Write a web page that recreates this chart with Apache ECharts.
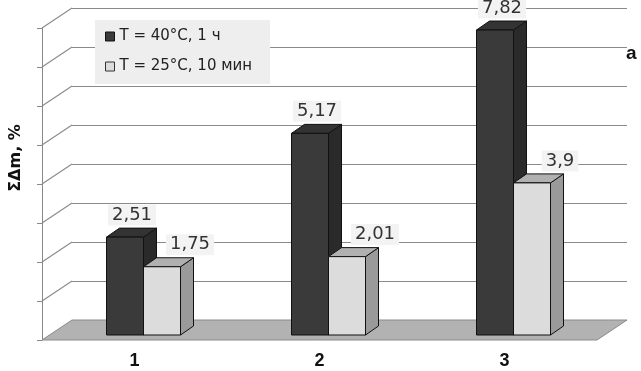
<!DOCTYPE html>
<html>
<head>
<meta charset="utf-8">
<script src="https://cdn.jsdelivr.net/npm/echarts@6/dist/echarts.min.js"></script>
<style>html,body{margin:0;padding:0;background:#fff}#main{width:641px;height:371px}</style>
</head>
<body>
<div id="main"></div>
<script>
const categories = ['1', '2', '3'];
const seriesNames = ['T = 40°C, 1 ч', 'T = 25°C, 10 мин'];
const hotValues = [2.51, 5.17, 7.82];
const coldValues = [1.75, 2.01, 3.9];
const yMax = 8;
const yStep = 1;

// pseudo-3D geometry (px)
const DEPTH = [30, -20];
const BAR_SHIFT = [9, -5];
const BAR_DEPTH = [13, -9];
const BAR_W = 37;

const chart = echarts.init(document.getElementById('main'));

const fmt = v => String(v).replace('.', ',');

function barSeries(name, values, side, colors, labelDx) {
  return {
    name: name,
    type: 'custom',
    xAxisIndex: 0,
    yAxisIndex: 0,
    z: 3,
    itemStyle: {color: colors.front},
    data: values.map((v, i) => [i, v]),
    renderItem(params, api) {
      const top = api.coord([api.value(0), api.value(1)]);
      const base = api.coord([api.value(0), 0]);
      const x0 = top[0] + BAR_SHIFT[0] + (side < 0 ? -BAR_W : 0);
      const x1 = x0 + BAR_W;
      const yt = top[1] + BAR_SHIFT[1];
      const yb = base[1] + BAR_SHIFT[1];
      const dx = BAR_DEPTH[0], dy = BAR_DEPTH[1];
      const edge = {stroke: '#111', lineWidth: 1};
      return {
        type: 'group',
        children: [
          {type: 'polygon', shape: {points: [[x1, yt], [x1 + dx, yt + dy], [x1 + dx, yb + dy], [x1, yb]]},
            style: Object.assign({fill: colors.side}, edge)},
          {type: 'polygon', shape: {points: [[x0, yt], [x0 + dx, yt + dy], [x1 + dx, yt + dy], [x1, yt]]},
            style: Object.assign({fill: colors.top}, edge)},
          {type: 'rect', shape: {x: x0, y: yt, width: BAR_W, height: yb - yt},
            style: Object.assign({fill: colors.front}, edge)},
          {type: 'text', x: x0 + BAR_W / 2 + labelDx, y: yt - 22, z2: 10,
            style: {text: fmt(api.value(1)), align: 'center', verticalAlign: 'middle',
              fontFamily: 'DejaVu Sans', fontSize: 18, fill: '#333',
              backgroundColor: '#f3f3f3', padding: [2, 4, 1, 4]}}
        ]
      };
    }
  };
}

const wallTicks = [];
for (let v = yStep; v <= yMax; v += yStep) wallTicks.push([0, v]);

chart.setOption({
  animation: false,
  grid: [
    {left: 42, top: 28, width: 555, height: 312},
    {left: 42 + DEPTH[0], top: 28 + DEPTH[1], width: 555, height: 312}
  ],
  xAxis: [
    {gridIndex: 0, type: 'category', data: categories,
      axisLine: {show: false}, axisTick: {show: false},
      axisLabel: {margin: 12, fontFamily: 'Arial', fontWeight: 'bold', fontSize: 18, color: '#111'}},
    {gridIndex: 1, type: 'category', data: categories, show: false}
  ],
  yAxis: [
    {gridIndex: 0, type: 'value', min: 0, max: yMax, interval: yStep,
      axisLine: {show: true, lineStyle: {color: '#888'}},
      axisTick: {show: true, length: 5, lineStyle: {color: '#888'}},
      axisLabel: {show: false}, splitLine: {show: false}},
    {gridIndex: 1, type: 'value', min: 0, max: yMax, interval: yStep,
      axisLine: {show: false}, axisTick: {show: false}, axisLabel: {show: false},
      splitLine: {show: true, lineStyle: {color: '#8a8a8a', width: 1.2}}}
  ],
  legend: {
    orient: 'vertical', left: 95, top: 20,
    padding: [9, 18, 10, 10], itemGap: 15,
    itemWidth: 9, itemHeight: 9, itemTextGap: 3,
    backgroundColor: '#eeeeee',
    textStyle: {fontFamily: 'DejaVu Sans', fontSize: 15, color: '#222'},
    data: [
      {name: seriesNames[0], icon: 'rect', itemStyle: {color: '#3a3a3a', borderColor: '#111', borderWidth: 1}},
      {name: seriesNames[1], icon: 'rect', itemStyle: {color: '#dcdcdc', borderColor: '#333', borderWidth: 1}}
    ]
  },
  graphic: [
    {type: 'text', x: 16, y: 158, rotation: Math.PI / 2,
      style: {text: 'ΣΔm, %', align: 'center', verticalAlign: 'middle',
        fontFamily: 'DejaVu Sans', fontWeight: 'bold', fontSize: 16, fill: '#111'}},
    {type: 'text', left: 626, top: 44,
      style: {text: 'a', fontFamily: 'Arial', fontWeight: 'bold', fontSize: 19, fill: '#111'}}
  ],
  series: [
    {
      type: 'custom', z: 1, silent: true,
      data: wallTicks,
      renderItem(params, api) {
        const cs = params.coordSys;
        const y = api.coord([0, api.value(1)])[1];
        return {type: 'line', shape: {x1: cs.x, y1: y, x2: cs.x + DEPTH[0], y2: y + DEPTH[1]},
          style: {stroke: '#8a8a8a', lineWidth: 1.2}};
      }
    },
    {
      type: 'custom', z: 2, silent: true,
      data: [[0, 0]],
      renderItem(params, api) {
        const cs = params.coordSys;
        const yb = cs.y + cs.height;
        return {type: 'polygon',
          shape: {points: [[cs.x, yb], [cs.x + cs.width, yb], [cs.x + cs.width + DEPTH[0], yb + DEPTH[1]], [cs.x + DEPTH[0], yb + DEPTH[1]]]},
          style: {fill: '#b2b2b2', stroke: '#8a8a8a', lineWidth: 1}};
      }
    },
    barSeries(seriesNames[0], hotValues, -1, {front: '#3a3a3a', side: '#2a2a2a', top: '#333333'}, 7),
    barSeries(seriesNames[1], coldValues, 1, {front: '#dcdcdc', side: '#9a9a9a', top: '#b0b0b0'}, 28)
  ]
});
</script>
</body>
</html>
